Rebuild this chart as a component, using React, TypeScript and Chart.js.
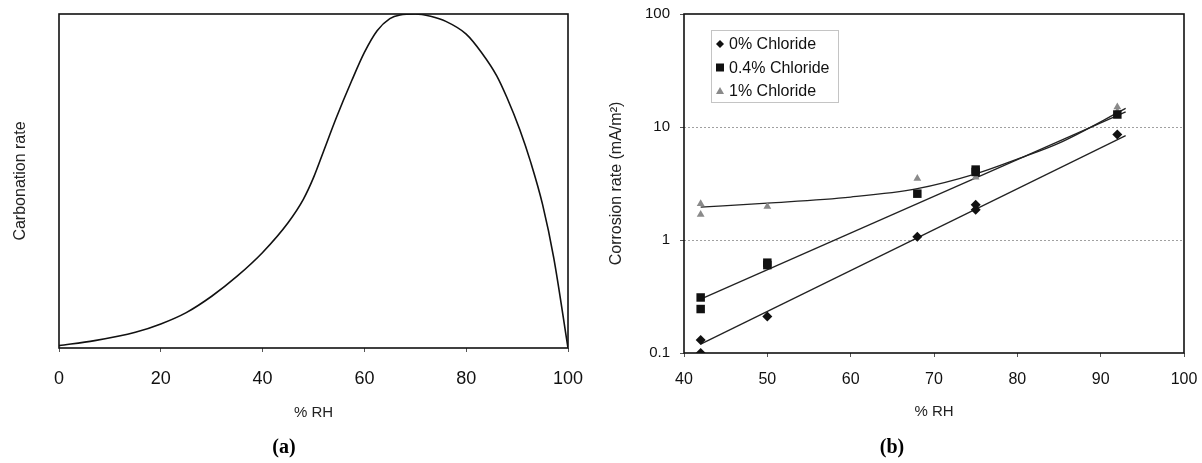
import React, { useEffect, useRef } from 'react';
import { Chart, registerables } from 'chart.js';

Chart.register(...registerables);

const SANS = '"Liberation Sans", Arial, sans-serif';
const SERIF = '"Liberation Serif", "Times New Roman", serif';

// ---------- Panel (a): carbonation rate vs %RH ----------
const carbRH = [0, 7, 15, 20, 25, 30, 35, 40, 45, 48, 50, 52, 54.5, 57.5, 60, 62.5, 65, 67, 70, 73, 76, 80, 83, 86, 88, 90.5, 92.7, 95, 97.2, 100];
const carbRate = [0.007, 0.022, 0.047, 0.072, 0.106, 0.155, 0.215, 0.286, 0.375, 0.445, 0.51, 0.59, 0.69, 0.8, 0.885, 0.95, 0.986, 0.997, 1.0, 0.993, 0.978, 0.94, 0.885, 0.815, 0.75, 0.655, 0.555, 0.43, 0.27, 0.0];
const carbXTicks = [0, 20, 40, 60, 80, 100];

// ---------- Panel (b): corrosion rate vs %RH ----------
const seriesLabels = ['0% Chloride', '0.4% Chloride', '1% Chloride'];
const rh0 = [42, 42, 50, 68, 75, 75, 92];
const cr0 = [0.13, 0.1, 0.21, 1.07, 2.05, 1.85, 8.6];
const rh04 = [42, 42, 50, 50, 68, 75, 75, 92];
const cr04 = [0.31, 0.245, 0.63, 0.6, 2.57, 4.2, 4.0, 12.9];
const rh1 = [42, 42, 50, 68, 75, 75, 92, 92];
const cr1 = [2.09, 1.68, 1.98, 3.5, 4.1, 3.6, 15.0, 13.7];

const trend0RH = [42, 93];
const trend0CR = [0.12, 8.4];
const trend04RH = [42, 93];
const trend04CR = [0.3, 13.6];
const trend1RH = [42, 50, 60, 68, 75, 80, 85, 93];
const trend1CR = [1.95, 2.12, 2.4, 2.85, 3.85, 5.2, 7.2, 14.6];

const rhXTicks = [40, 50, 60, 70, 80, 90, 100];
const corrYTicks = [0.1, 1, 10, 100];
const corrYTickLabels = ['0.1', '1', '10', '100'];

const pts = (xs: number[], ys: number[]) => xs.map((x, i) => ({ x, y: ys[i] }));

const noEdgePadding = (s: any) => {
  s.paddingLeft = 0;
  s.paddingRight = 0;
  s.paddingTop = 0;
  s.paddingBottom = 0;
};

const plotBox = {
  id: 'plotBox',
  afterDatasetsDraw(chart: any) {
    const { ctx, chartArea: a } = chart;
    ctx.save();
    ctx.strokeStyle = '#111';
    ctx.lineWidth = 1.6;
    ctx.setLineDash([]);
    ctx.strokeRect(a.left, a.top, a.right - a.left, a.bottom - a.top);
    ctx.restore();
  },
};

function drawMarker(ctx: CanvasRenderingContext2D, style: string, cx: number, cy: number, color: string) {
  ctx.fillStyle = color;
  ctx.beginPath();
  if (style === 'rectRot') {
    ctx.moveTo(cx, cy - 4);
    ctx.lineTo(cx + 4, cy);
    ctx.lineTo(cx, cy + 4);
    ctx.lineTo(cx - 4, cy);
  } else if (style === 'rect') {
    ctx.rect(cx - 4, cy - 4, 8, 8);
  } else {
    ctx.moveTo(cx, cy - 4);
    ctx.lineTo(cx + 4, cy + 3);
    ctx.lineTo(cx - 4, cy + 3);
  }
  ctx.closePath();
  ctx.fill();
}

const insetLegend = {
  id: 'insetLegend',
  afterDraw(chart: any) {
    const { ctx, chartArea: a } = chart;
    const x0 = a.left + 27;
    const y0 = a.top + 16;
    const w = 127;
    const h = 72;
    ctx.save();
    ctx.fillStyle = '#fff';
    ctx.fillRect(x0, y0, w, h);
    ctx.setLineDash([1, 1]);
    ctx.strokeStyle = '#888';
    ctx.lineWidth = 1;
    ctx.strokeRect(x0 + 0.5, y0 + 0.5, w, h);
    ctx.setLineDash([]);
    ctx.font = `16px ${SANS}`;
    ctx.textBaseline = 'middle';
    ctx.textAlign = 'left';
    const items = chart.data.datasets.filter((d: any) => !d.isTrend);
    items.forEach((d: any, i: number) => {
      const cy = y0 + 14 + i * 23.5;
      drawMarker(ctx, d.pointStyle, x0 + 9, cy, d.backgroundColor);
      ctx.fillStyle = '#111';
      ctx.fillText(d.label, x0 + 18, cy + 1);
    });
    ctx.restore();
  },
};

function leftConfig(): any {
  return {
    type: 'scatter',
    data: {
      datasets: [
        {
          label: 'Carbonation rate',
          data: pts(carbRH, carbRate),
          showLine: true,
          borderColor: '#111',
          borderWidth: 1.6,
          pointRadius: 0,
          cubicInterpolationMode: 'monotone',
        },
      ],
    },
    options: {
      animation: false,
      responsive: false,
      layout: { padding: { top: 14, right: 32, left: 0, bottom: 0 } },
      plugins: {
        legend: { display: false },
        tooltip: { enabled: false },
        title: {
          display: true,
          text: '(a)',
          position: 'bottom',
          color: '#000',
          font: { family: SERIF, size: 20, weight: 'bold' },
          padding: { top: 0, bottom: 3 },
        },
      },
      scales: {
        x: {
          type: 'linear',
          min: 0,
          max: 100,
          afterBuildTicks: (s: any) => { s.ticks = carbXTicks.map((v) => ({ value: v })); },
          afterFit: (s: any) => { s.height = 88; noEdgePadding(s); },
          border: { display: false },
          grid: { drawOnChartArea: false, drawTicks: true, tickLength: 4, color: '#555', tickColor: '#555' },
          ticks: { color: '#111', font: { family: SANS, size: 18 }, padding: 16, maxRotation: 0 },
          title: {
            display: true,
            text: '% RH',
            color: '#222',
            font: { family: SANS, size: 15 },
            padding: { top: 0, bottom: 14 },
          },
        },
        y: {
          type: 'linear',
          min: 0,
          max: 1,
          afterFit: (s: any) => { s.width = 59; noEdgePadding(s); },
          border: { display: false },
          grid: { display: false },
          ticks: { display: false },
          title: {
            display: true,
            text: 'Carbonation rate',
            color: '#222',
            font: { family: SANS, size: 16 },
            padding: { top: 11, bottom: 0 },
          },
        },
      },
    },
    plugins: [plotBox],
  };
}

function rightConfig(): any {
  const ptDs = (label: string, xs: number[], ys: number[], style: string, color: string, r: number) => ({
    label,
    data: pts(xs, ys),
    showLine: false,
    pointStyle: style,
    pointRadius: r,
    backgroundColor: color,
    borderColor: color,
    borderWidth: 0,
  });
  const trendDs = (xs: number[], ys: number[], curve: boolean) => ({
    label: 'trend',
    isTrend: true,
    data: pts(xs, ys),
    showLine: true,
    pointRadius: 0,
    borderColor: '#222',
    borderWidth: 1.3,
    cubicInterpolationMode: curve ? 'monotone' : 'default',
  });
  return {
    type: 'scatter',
    data: {
      datasets: [
        ptDs(seriesLabels[0], rh0, cr0, 'rectRot', '#111', 5),
        ptDs(seriesLabels[1], rh04, cr04, 'rect', '#111', 6),
        ptDs(seriesLabels[2], rh1, cr1, 'triangle', '#8a8a8a', 4.5),
        trendDs(trend0RH, trend0CR, false),
        trendDs(trend04RH, trend04CR, false),
        trendDs(trend1RH, trend1CR, true),
      ],
    },
    options: {
      animation: false,
      responsive: false,
      layout: { padding: { top: 14, right: 18, left: 0, bottom: 0 } },
      plugins: {
        legend: { display: false },
        tooltip: { enabled: false },
        title: {
          display: true,
          text: '(b)',
          position: 'bottom',
          color: '#000',
          font: { family: SERIF, size: 20, weight: 'bold' },
          padding: { top: 0, bottom: 3 },
        },
      },
      scales: {
        x: {
          type: 'linear',
          min: 40,
          max: 100,
          afterBuildTicks: (s: any) => { s.ticks = rhXTicks.map((v) => ({ value: v })); },
          afterFit: (s: any) => { s.height = 83; noEdgePadding(s); },
          border: { display: false },
          grid: { drawOnChartArea: false, drawTicks: true, tickLength: 4, color: '#555', tickColor: '#555' },
          ticks: { color: '#111', font: { family: SANS, size: 16 }, padding: 13, maxRotation: 0 },
          title: {
            display: true,
            text: '% RH',
            color: '#222',
            font: { family: SANS, size: 15 },
            padding: { top: 0, bottom: 15 },
          },
        },
        y: {
          type: 'logarithmic',
          min: 0.1,
          max: 100,
          afterBuildTicks: (s: any) => { s.ticks = corrYTicks.map((v) => ({ value: v })); },
          afterFit: (s: any) => { s.width = 84; noEdgePadding(s); },
          border: { display: false, dash: [2, 2] },
          grid: {
            drawOnChartArea: true,
            drawTicks: true,
            tickLength: 4,
            tickColor: '#555',
            color: (c: any) => (c.tick && (c.tick.value === 1 || c.tick.value === 10) ? '#a0a0a0' : 'rgba(0,0,0,0)'),
          },
          ticks: {
            color: '#111',
            font: { family: SANS, size: 15 },
            padding: 10,
            callback: (v: any) => {
              const i = corrYTicks.indexOf(Number(v));
              return i >= 0 ? corrYTickLabels[i] : '';
            },
          },
          title: {
            display: true,
            text: 'Corrosion rate (mA/m²)',
            color: '#222',
            font: { family: SANS, size: 16 },
            padding: { top: 7, bottom: 0 },
          },
        },
      },
    },
    plugins: [plotBox, insetLegend],
  };
}

export default function App() {
  const leftRef = useRef<HTMLCanvasElement>(null);
  const rightRef = useRef<HTMLCanvasElement>(null);
  useEffect(() => {
    const c1 = new Chart(leftRef.current as HTMLCanvasElement, leftConfig());
    const c2 = new Chart(rightRef.current as HTMLCanvasElement, rightConfig());
    return () => {
      c1.destroy();
      c2.destroy();
    };
  }, []);
  return (
    <div style={{ position: 'fixed', left: 0, top: 0, width: 1202, height: 463, background: '#fff' }}>
      <canvas ref={leftRef} width={600} height={463} style={{ position: 'absolute', left: 0, top: 0, width: 600, height: 463 }} />
      <canvas ref={rightRef} width={602} height={463} style={{ position: 'absolute', left: 600, top: 0, width: 602, height: 463 }} />
    </div>
  );
}
